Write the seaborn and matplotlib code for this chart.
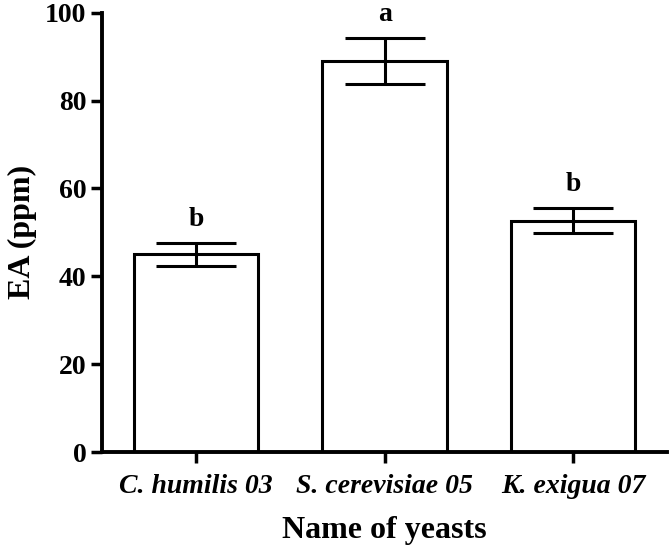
import pandas as pd
import matplotlib.pyplot as plt
import seaborn as sns

# data
yeasts = ['C. humilis 03', 'S. cerevisiae 05', 'K. exigua 07']
ea_mean = [45.0, 89.0, 52.7]
ea_err = [2.6, 5.2, 2.8]
letters = ['b', 'a', 'b']

df = pd.DataFrame({'Yeast': yeasts, 'EA': ea_mean})

sns.set_style('ticks', {'axes.edgecolor': 'black', 'text.color': 'black',
                        'xtick.color': 'black', 'ytick.color': 'black',
                        'axes.labelcolor': 'black'})
plt.rcParams['font.family'] = ['Liberation Serif', 'DejaVu Serif']
plt.rcParams['font.weight'] = 'bold'

fig = plt.figure(figsize=(6.7, 5.54), dpi=100)
ax = fig.add_axes([0.152, 0.184, 0.844, 0.793])

sns.barplot(data=df, x='Yeast', y='EA', color='white', edgecolor='black',
            linewidth=2.2, width=0.66, ax=ax)
ax.errorbar(range(len(yeasts)), ea_mean, yerr=ea_err, fmt='none',
            ecolor='black', elinewidth=2.2, capsize=29, capthick=2.2)

# significance letters
for i, (m, e, t) in enumerate(zip(ea_mean, ea_err, letters)):
    ax.text(i, m + e + 2.6, t, ha='center', va='bottom',
            fontsize=20, fontweight='bold', clip_on=False)

ax.set_xlim(-0.5, 2.5)
ax.set_ylim(0, 100)
ax.set_yticks([0, 20, 40, 60, 80, 100])
ax.set_xticks(range(len(yeasts)))
ax.set_xticklabels(yeasts, fontsize=20, fontweight='bold', style='italic')
ax.tick_params(axis='y', labelsize=20, width=2.5, length=8, pad=3)
ax.tick_params(axis='x', width=2.5, length=8, pad=8)
for lab in ax.get_yticklabels():
    lab.set_fontweight('bold')

ax.set_xlabel('Name of yeasts', fontsize=23, fontweight='bold', labelpad=12)
ax.set_ylabel('EA (ppm)', fontsize=23, fontweight='bold', labelpad=6)

sns.despine(ax=ax)
for side in ['left', 'bottom']:
    ax.spines[side].set_linewidth(2.8)

fig.savefig('out.png', dpi=100)
